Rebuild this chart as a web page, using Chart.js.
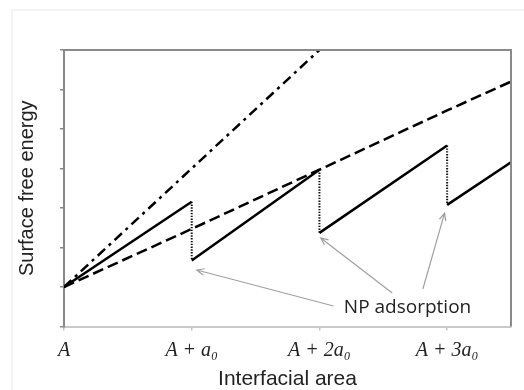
<!DOCTYPE html>
<html><head><meta charset="utf-8">
<script src="https://cdn.jsdelivr.net/npm/chart.js@4"></script>
<style>html,body{margin:0;padding:0;background:#fff}</style>
</head><body>
<canvas id="c" width="524" height="390"></canvas>
<script>
// ---- data (x in units of a0 beyond A, y in arbitrary energy units) ----
const xTickValues = [0, 1, 2, 3];
const xTickLabels = ['A', 'A + a₀', 'A + 2a₀', 'A + 3a₀'];
const dashDotX = [0, 2];
const dashDotY = [1, 7];
const dashedX = [0, 1, 2, 3, 3.5];
const dashedY = [1, 2.47, 3.97, 5.47, 6.2];
const riseStartX = [0, 1, 2, 3];
const riseStartY = [1, 1.67, 2.37, 3.08];
const riseEndX = [1, 2, 3, 3.5];
const riseEndY = [3.16, 3.97, 4.58, 4.16];
const dropX = [1, 2, 3];
const dropTopY = [3.16, 3.97, 4.58];
const dropBottomY = [1.67, 2.37, 3.08];
const noteText = 'NP adsorption';
const noteAt = {x: 2.69, y: 0.49};
const arrowFromX = [2.11, 2.57, 2.81];
const arrowFromY = [0.52, 0.85, 0.95];
const arrowToX = [1.04, 2.01, 2.98];
const arrowToY = [1.43, 2.24, 2.87];

const solidData = [];
riseStartX.forEach((x0, i) => {
  solidData.push({x: x0, y: riseStartY[i]}, {x: riseEndX[i], y: riseEndY[i]}, {x: riseEndX[i], y: null});
});
const dottedData = [];
dropX.forEach((x0, i) => {
  dottedData.push({x: x0, y: dropTopY[i]}, {x: x0, y: dropBottomY[i]}, {x: x0, y: null});
});

const decor = {
  id: 'decor',
  beforeDraw(chart) {
    const {ctx, width, height} = chart;
    ctx.save();
    ctx.fillStyle = '#fff';
    ctx.fillRect(0, 0, width, height);
    ctx.strokeStyle = '#f1f1f1';
    ctx.lineWidth = 1.5;
    ctx.beginPath();
    ctx.moveTo(12, height);
    ctx.lineTo(12, 10);
    ctx.lineTo(width, 10);
    ctx.stroke();
    ctx.restore();
  },
  afterDraw(chart) {
    const {ctx, chartArea: a, scales: {x, y}} = chart;
    ctx.save();
    ctx.strokeStyle = '#8a8a8a';
    ctx.lineWidth = 2;
    ctx.beginPath();
    ctx.moveTo(a.left, a.top);
    ctx.lineTo(a.right, a.top);
    ctx.lineTo(a.right, a.bottom);
    ctx.stroke();
    // arrows
    ctx.strokeStyle = '#a0a0a0';
    ctx.lineWidth = 1.2;
    arrowFromX.forEach((fx, i) => {
      const x1 = x.getPixelForValue(fx), y1 = y.getPixelForValue(arrowFromY[i]);
      const x2 = x.getPixelForValue(arrowToX[i]), y2 = y.getPixelForValue(arrowToY[i]);
      const ang = Math.atan2(y2 - y1, x2 - x1);
      const L = 8, w = 0.42;
      ctx.beginPath();
      ctx.moveTo(x1, y1);
      ctx.lineTo(x2, y2);
      ctx.moveTo(x2 - L * Math.cos(ang - w), y2 - L * Math.sin(ang - w));
      ctx.lineTo(x2, y2);
      ctx.lineTo(x2 - L * Math.cos(ang + w), y2 - L * Math.sin(ang + w));
      ctx.stroke();
    });
    ctx.fillStyle = '#222';
    ctx.font = '19px "Open Sans", "Noto Sans", sans-serif';
    ctx.textAlign = 'center';
    ctx.textBaseline = 'middle';
    ctx.fillText(noteText, x.getPixelForValue(noteAt.x), y.getPixelForValue(noteAt.y));
    ctx.restore();
  }
};

new Chart(document.getElementById('c'), {
  type: 'line',
  data: {
    datasets: [
      {data: dashDotX.map((v, i) => ({x: v, y: dashDotY[i]})), borderColor: '#000', borderWidth: 2.5, borderDash: [10, 5, 3, 5]},
      {data: dashedX.map((v, i) => ({x: v, y: dashedY[i]})), borderColor: '#000', borderWidth: 2.5, borderDash: [11, 5]},
      {data: solidData, borderColor: '#000', borderWidth: 2.5, spanGaps: false},
      {data: dottedData, borderColor: '#111', borderWidth: 2, borderDash: [1.4, 1.4], spanGaps: false}
    ]
  },
  options: {
    responsive: false,
    animation: false,
    events: [],
    elements: {point: {radius: 0}, line: {tension: 0, borderCapStyle: 'butt'}},
    layout: {padding: {top: 50, right: 13, left: 0, bottom: 0}},
    plugins: {legend: {display: false}, tooltip: {enabled: false}},
    scales: {
      x: {
        type: 'linear', min: 0, max: 3.5,
        afterBuildTicks: s => { s.ticks = xTickValues.map(v => ({value: v})); },
        afterFit: s => { s.height = 63.5; },
        ticks: {
          callback: v => { const i = xTickValues.indexOf(v); return i >= 0 ? xTickLabels[i] : ''; },
          font: {family: '"Liberation Serif", "DejaVu Serif", serif', style: 'italic', size: 20},
          color: '#222', maxRotation: 0, autoSkip: false, padding: 8
        },
        grid: {drawOnChartArea: false, drawTicks: true, tickLength: 4, color: '#c4c4c4', lineWidth: 1.5},
        border: {display: true, color: '#c8c8c8', width: 2},
        title: {display: true, text: 'Interfacial area', color: '#222',
          font: {family: '"Liberation Sans", Arial, sans-serif', size: 21, lineHeight: 1}, padding: {top: 0, bottom: 0}}
      },
      y: {
        type: 'linear', min: 0, max: 7,
        afterFit: s => { s.width = 64; },
        ticks: {display: false, stepSize: 1},
        grid: {drawOnChartArea: false, drawTicks: true, tickLength: 4, color: '#888', lineWidth: 1.5},
        border: {display: true, color: '#888', width: 2},
        title: {display: true, text: 'Surface free energy', color: '#222',
          font: {family: '"Liberation Sans", Arial, sans-serif', size: 20, lineHeight: 1}, padding: {top: 17, bottom: 0}}
      }
    }
  },
  plugins: [decor]
});
</script>
</body></html>
